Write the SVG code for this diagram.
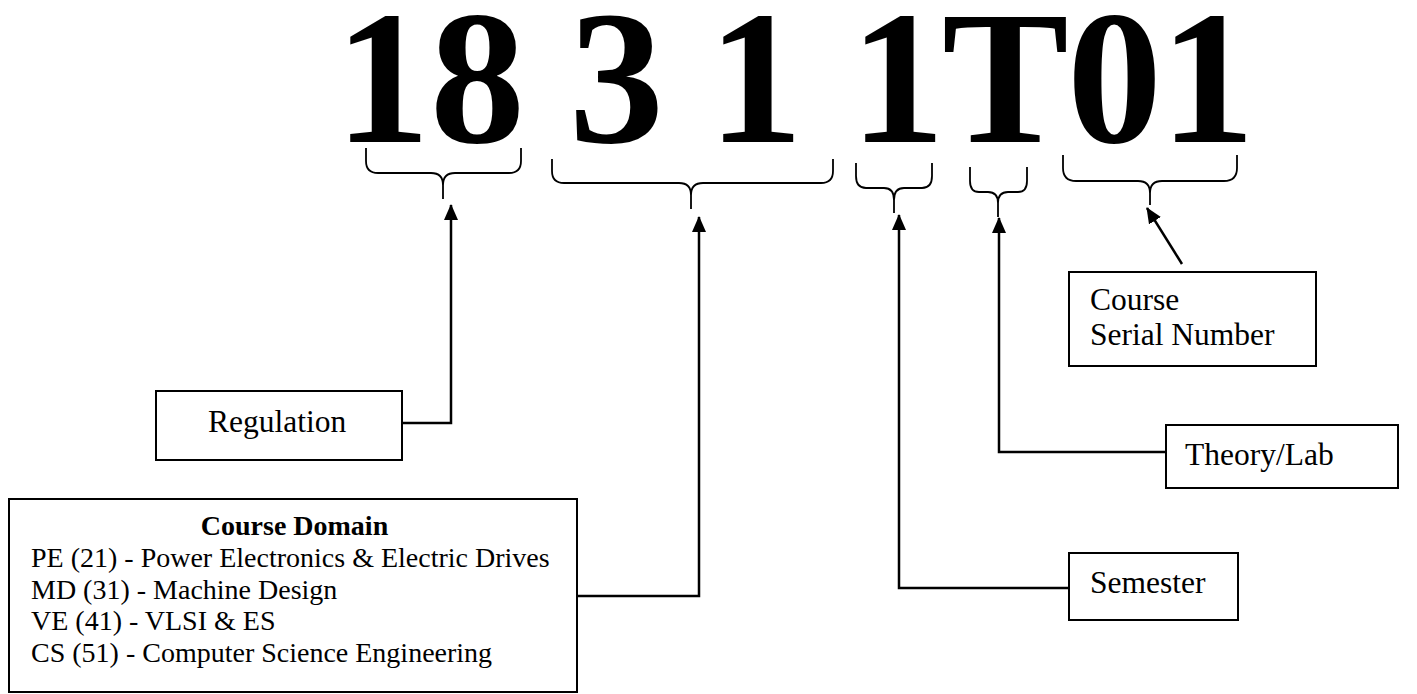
<svg xmlns="http://www.w3.org/2000/svg" width="1417" height="694" viewBox="0 0 1417 694">
<style>
.big{font-family:"Liberation Serif","Times New Roman",serif;font-weight:bold;font-size:190px;fill:#000}
.lbl{font-family:"Liberation Serif","Times New Roman",serif;font-size:31.5px;fill:#000}
.dom{font-family:"Liberation Serif","Times New Roman",serif;font-size:28px;fill:#000}
.box{fill:#fff;stroke:#000;stroke-width:2}
.brace{fill:none;stroke:#000;stroke-width:1.8}
.conn{fill:none;stroke:#000;stroke-width:2.5}
</style>
<defs>
<marker id="arr" markerUnits="userSpaceOnUse" markerWidth="16" markerHeight="14" refX="15" refY="7" orient="auto">
<path d="M0,0 L16,7 L0,14 z" fill="#000"/>
</marker>
</defs>
<rect width="1417" height="694" fill="#fff"/>
<g id="code">
<text class="big" x="335" y="142">18</text>
<text class="big" x="569" y="142">3</text>
<text class="big" x="708" y="142">1</text>
<text class="big" x="850 942 1067 1160" y="142">1T01</text>
</g>
<g id="braces">
<path class="brace" d="M366,148 L366,161 Q366,173 378,173 L431,173 Q443,173 443,185 L443,199 M443,185 Q443,173 455,173 L509,173 Q521,173 521,161 L521,148"/>
<path class="brace" d="M552,159 L552,171 Q552,183 564,183 L679,183 Q691,183 691,195 L691,209 M691,195 Q691,183 703,183 L821,183 Q833,183 833,171 L833,159"/>
<path class="brace" d="M856,163 L856,176 Q856,188 866,188 L884,188 Q894,188 894,200 L894,213 M894,200 Q894,188 904,188 L922,188 Q932,188 932,176 L932,163"/>
<path class="brace" d="M970,167 L970,181 Q970,192 979,192 L988,192 Q998,192 998,203 L998,217 M998,203 Q998,192 1008,192 L1018,192 Q1027,192 1027,181 L1027,167"/>
<path class="brace" d="M1063,155 L1063,168 Q1063,181 1076,181 L1138,181 Q1150,181 1150,193 L1150,205 M1150,193 Q1150,181 1162,181 L1224,181 Q1237,181 1237,168 L1237,155"/>
</g>
<g id="connectors">
<path class="conn" d="M402,423 H451 V205" marker-end="url(#arr)"/>
<path class="conn" d="M577,596 H699 V217" marker-end="url(#arr)"/>
<path class="conn" d="M1069,588 H899 V215" marker-end="url(#arr)"/>
<path class="conn" d="M1166,452 H999 V218" marker-end="url(#arr)"/>
<path class="conn" d="M1182,264 L1147,208" marker-end="url(#arr)"/>
</g>
<g id="regulation">
<rect class="box" x="156" y="391" width="246" height="69"/>
<text class="lbl" x="208" y="432">Regulation</text>
</g>
<g id="course-domain">
<rect class="box" x="9" y="499" width="568" height="193"/>
<text class="dom" x="294.5" y="535" text-anchor="middle" font-weight="bold">Course Domain</text>
<text class="dom" x="31" y="567">PE (21) - Power Electronics &amp; Electric Drives</text>
<text class="dom" x="31" y="599">MD (31) - Machine Design</text>
<text class="dom" x="31" y="630">VE (41) - VLSI &amp; ES</text>
<text class="dom" x="31" y="662">CS (51) - Computer Science Engineering</text>
</g>
<g id="serial">
<rect class="box" x="1069" y="272" width="247" height="94"/>
<text class="lbl" x="1090" y="310">Course</text>
<text class="lbl" x="1090" y="345">Serial Number</text>
</g>
<g id="theory-lab">
<rect class="box" x="1166" y="425" width="232" height="63"/>
<text class="lbl" x="1185" y="465">Theory/Lab</text>
</g>
<g id="semester">
<rect class="box" x="1069" y="553" width="169" height="67"/>
<text class="lbl" x="1090" y="593">Semester</text>
</g>
</svg>
